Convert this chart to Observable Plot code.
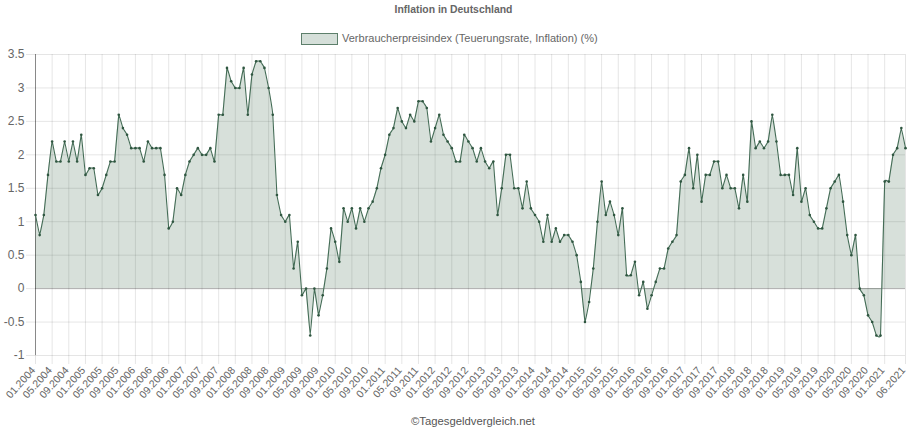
<!DOCTYPE html>
<html lang="de">
<head>
<meta charset="utf-8">
<script src="https://cdn.jsdelivr.net/npm/d3@7"></script>
<script src="https://cdn.jsdelivr.net/npm/@observablehq/plot@0.6"></script>
<style>
html,body{margin:0;padding:0;background:#fff;width:908px;height:432px;overflow:hidden;font-family:"Liberation Sans",Arial,sans-serif;color:#666}
#wrap{position:relative;width:908px;height:432px}
#title{position:absolute;left:0;top:3px;width:907px;text-align:center;font-size:10.4px;font-weight:bold;line-height:14px}
#legend{position:absolute;left:301px;top:33px;display:flex;align-items:center;font-size:11px;line-height:12px}
#swatch{width:35px;height:10px;background:#d5dfd9;border:1.5px solid #5d7f6b;margin-right:5px}
#legendText{position:relative;top:-1px;left:-1px}
#chart{position:absolute;left:0;top:46px}
#caption{position:absolute;left:0;top:414px;width:946px;text-align:center;font-size:11.3px;line-height:14px;color:#555}
svg text{font-family:"Liberation Sans",Arial,sans-serif}
</style>
</head>
<body>
<div id="wrap">
<div id="title"></div>
<div id="legend"><span id="swatch"></span><span id="legendText"></span></div>
<div id="chart"></div>
<div id="caption"></div>
</div>
<script>
const titleText = "Inflation in Deutschland";
const seriesName = "Verbraucherpreisindex (Teuerungsrate, Inflation) (%)";
const captionText = "©Tagesgeldvergleich.net";
const startYear = 2004;

const y2004 = [1.1,0.8,1.1,1.7,2.2,1.9,1.9,2.2,1.9,2.2,1.9,2.3];
const y2005 = [1.7,1.8,1.8,1.4,1.5,1.7,1.9,1.9,2.6,2.4,2.3,2.1];
const y2006 = [2.1,2.1,1.9,2.2,2.1,2.1,2.1,1.7,0.9,1.0,1.5,1.4];
const y2007 = [1.7,1.9,2.0,2.1,2.0,2.0,2.1,1.9,2.6,2.6,3.3,3.1];
const y2008 = [3.0,3.0,3.3,2.6,3.2,3.4,3.4,3.3,3.0,2.6,1.4,1.1];
const y2009 = [1.0,1.1,0.3,0.7,-0.1,0.0,-0.7,0.0,-0.4,-0.1,0.3,0.9];
const y2010 = [0.7,0.4,1.2,1.0,1.2,0.9,1.2,1.0,1.2,1.3,1.5,1.8];
const y2011 = [2.0,2.3,2.4,2.7,2.5,2.4,2.6,2.5,2.8,2.8,2.7,2.2];
const y2012 = [2.4,2.6,2.3,2.2,2.1,1.9,1.9,2.3,2.2,2.1,1.9,2.1];
const y2013 = [1.9,1.8,1.9,1.1,1.5,2.0,2.0,1.5,1.5,1.2,1.6,1.2];
const y2014 = [1.1,1.0,0.7,1.1,0.7,0.9,0.7,0.8,0.8,0.7,0.5,0.1];
const y2015 = [-0.5,-0.2,0.3,1.0,1.6,1.1,1.3,1.1,0.8,1.2,0.2,0.2];
const y2016 = [0.4,-0.1,0.1,-0.3,-0.1,0.1,0.3,0.3,0.6,0.7,0.8,1.6];
const y2017 = [1.7,2.1,1.5,2.0,1.3,1.7,1.7,1.9,1.9,1.5,1.7,1.5];
const y2018 = [1.5,1.2,1.7,1.3,2.5,2.1,2.2,2.1,2.2,2.6,2.2,1.7];
const y2019 = [1.7,1.7,1.4,2.1,1.3,1.5,1.1,1.0,0.9,0.9,1.2,1.5];
const y2020 = [1.6,1.7,1.3,0.8,0.5,0.8,0.0,-0.1,-0.4,-0.5,-0.7,-0.7];
const y2021 = [1.6,1.6,2.0,2.1,2.4,2.1];
const years = [y2004,y2005,y2006,y2007,y2008,y2009,y2010,y2011,y2012,y2013,y2014,y2015,y2016,y2017,y2018,y2019,y2020,y2021];

const yTicks = [-1,-0.5,0,0.5,1,1.5,2,2.5,3,3.5];

const data = [];
years.forEach((vals, yi) => vals.forEach((v, mi) => data.push({
  i: data.length,
  label: String(mi + 1).padStart(2, "0") + "." + (startYear + yi),
  v
})));
const xTicks = data.filter(d => (d.i % 4 === 0 && d.i < data.length - 4) || d.i === data.length - 1).map(d => d.i);
const labelOf = i => data[i].label;

document.getElementById("title").textContent = titleText;
document.getElementById("legendText").textContent = seriesName;
document.getElementById("caption").textContent = captionText;

const curve = d3.curveCardinal.tension(0.88);
const dark = "#446c56";

const plot = Plot.plot({
  width: 908, height: 362,
  marginLeft: 35, marginRight: 3, marginTop: 8, marginBottom: 53,
  style: {background: "transparent", fontSize: "12px", color: "#666", overflow: "visible"},
  x: {type: "linear", domain: [0, data.length - 1]},
  y: {domain: [-1, 3.5]},
  marks: [
    Plot.ruleY(yTicks, {stroke: "#000", strokeOpacity: 0.1, insetLeft: -9}),
    Plot.ruleX(xTicks, {stroke: "#000", strokeOpacity: 0.1, insetBottom: -9}),
    Plot.areaY(data, {x: "i", y: "v", curve, fill: "#2a5a38", fillOpacity: 0.19}),
    Plot.ruleY([0], {stroke: "#000", strokeOpacity: 0.25}),
    Plot.ruleX([0], {stroke: "#000", strokeOpacity: 0.4}),
    Plot.lineY(data, {x: "i", y: "v", curve, stroke: dark, strokeWidth: 1.1}),
    Plot.dot(data, {x: "i", y: "v", r: 1.3, fill: "#2f5640", stroke: "none"}),
    Plot.axisX({ticks: xTicks, tickFormat: labelOf, tickRotate: -48, tickSize: 0, tickPadding: 13, dx: -2, fontSize: 10.5, fill: "#666", label: null}),
    Plot.axisY({ticks: yTicks, tickFormat: d => String(d), tickSize: 0, tickPadding: 11, fontSize: 12, fill: "#666", label: null})
  ]
});
document.getElementById("chart").appendChild(plot);
</script>
</body>
</html>
